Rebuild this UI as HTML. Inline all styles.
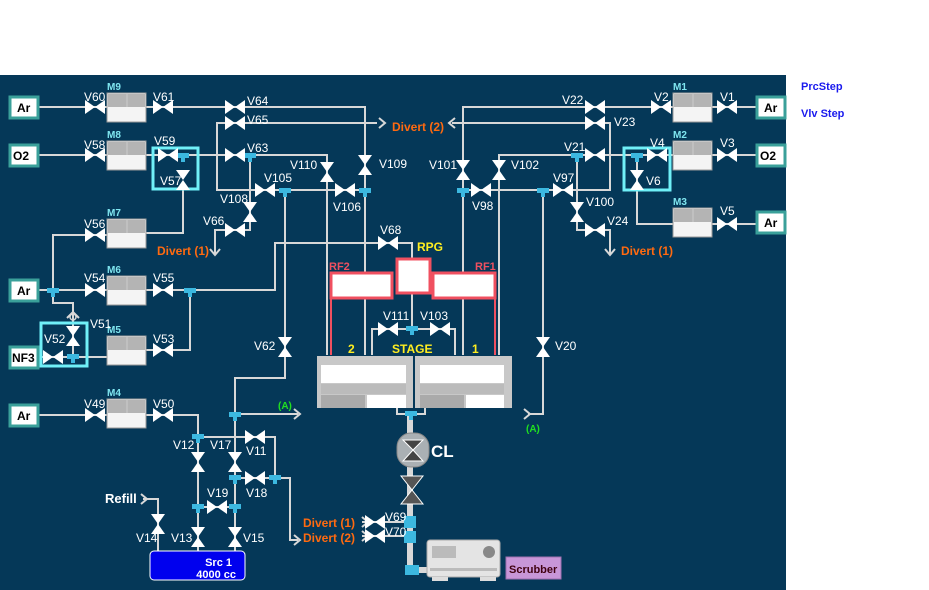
<!DOCTYPE html>
<html><head><meta charset="utf-8"><style>
html,body{margin:0;padding:0;background:#fff;width:929px;height:590px;overflow:hidden}
svg{display:block}
text{font-family:"Liberation Sans",sans-serif}
.l{fill:#fff;font-size:12px}
.m{fill:#7fe6f0;font-size:10px;font-weight:bold}
.o{fill:#ff6a10;font-size:12px;font-weight:bold}
.y{fill:#ffee20;font-size:12px;font-weight:bold}
.r{fill:#f05060;font-size:11px;font-weight:bold}
.g{fill:#20e020;font-size:10px;font-weight:bold}
.p{fill:none;stroke:#d8d8d8;stroke-width:2}
</style></head><body>
<svg width="929" height="590" viewBox="0 0 929 590" xmlns="http://www.w3.org/2000/svg">
<defs>
<g id="vh"><polygon points="-10,-7 0,0 -10,7" fill="#fff"/><polygon points="10,-7 0,0 10,7" fill="#fff"/></g>
<g id="vv"><polygon points="-7,-10 0,0 7,-10" fill="#fff"/><polygon points="-7,10 0,0 7,10" fill="#fff"/></g>
<g id="mfc"><rect x="0" y="0" width="39" height="29" fill="#f4f4f4" stroke="#999"/><rect x="1" y="1" width="37" height="13" fill="#b4b4b4"/><line x1="20" y1="1" x2="20" y2="14" stroke="#ccc"/></g>
<g id="gb"><rect x="0" y="0" width="28" height="21" fill="#fff" stroke="#3aa09a" stroke-width="3"/></g>
<g id="tee"><rect x="-6" y="-3" width="12" height="5" fill="#3cb8e0"/><rect x="-2" y="-3" width="4" height="9" fill="#3cb8e0"/></g>
<g id="ah"><polyline points="-6,-5 0,0 -6,5" fill="none" stroke="#d8d8d8" stroke-width="2"/></g>
</defs>
<rect x="0" y="75" width="786" height="515" fill="#053858"/>
<text x="801" y="90" style="fill:#1a1aee;font-size:11px;font-weight:bold">PrcStep</text>
<text x="801" y="117" style="fill:#1a1aee;font-size:11px;font-weight:bold">Vlv Step</text>

<g class="p">
<polyline points="38,107 107,107"/><polyline points="146,107 365,107 365,270"/>
<polyline points="377,123 217,123 217,190 365,190"/>
<polyline points="38,155 107,155"/><polyline points="146,155 327,155 327,270"/>
<polyline points="250,155 250,230 215,230 215,254"/>
<polyline points="285,190 285,378 235,378 235,440"/>
<polyline points="235,414 298,414"/>
<polyline points="53,290 53,235 107,235"/><polyline points="146,233 183,233 183,185"/>
<polyline points="38,290 107,290"/><polyline points="146,290 275,290 275,243 412,243 412,260"/>
<polyline points="190,290 190,350 146,350"/>
<polyline points="38,357 107,357"/>
<polyline points="73,357 73,303 53,303 53,290"/>
<polyline points="38,415 107,415"/><polyline points="146,415 198,415 198,555"/>
<polyline points="198,437 275,437 275,478 235,478"/>
<polyline points="235,440 235,555"/>
<polyline points="198,507 235,507"/>
<polyline points="275,478 290,478 290,540 298,540"/>
<polyline points="143,499 158,499 158,555"/>
<polyline points="362,522 410,522"/><polyline points="362,536 410,536"/>
<polyline points="757,107 712,107"/><polyline points="673,107 463,107 463,355"/>
<polyline points="452,123 610,123 610,190 463,190"/>
<polyline points="757,155 712,155"/><polyline points="673,155 499,155 499,270"/>
<polyline points="637,155 637,224 673,224"/><polyline points="712,224 757,224"/>
<polyline points="577,155 577,230 610,230 610,254"/>
<polyline points="543,190 543,414 528,414"/>
<polyline points="372,355 372,329 455,329 455,355"/>
<polyline points="365,270 365,355"/><polyline points="327,270 327,355"/><polyline points="463,270 463,355"/><polyline points="499,270 499,355"/>
<polyline points="412,293 412,329"/>
<polyline points="397,408 397,414 425,414 425,408"/>
</g>
<line x1="410" y1="414" x2="410" y2="572" stroke="#d8d8d8" stroke-width="6"/>
<line x1="410" y1="570" x2="430" y2="570" stroke="#d8d8d8" stroke-width="6"/>
<rect x="405" y="565" width="14" height="10" fill="#3cb8e0"/>
<rect x="404" y="516" width="12" height="12" fill="#3cb8e0"/><rect x="404" y="531" width="12" height="12" fill="#3cb8e0"/>
<use href="#ah" x="300" y="414"/><use href="#ah" x="300" y="540"/><use href="#ah" x="530" y="414"/>
<use href="#ah" x="368" y="522"/><use href="#ah" x="368" y="536"/><use href="#ah" x="147" y="499"/>
<use href="#ah" x="385" y="123"/>
<polyline points="455,118 449,123 455,128" fill="none" stroke="#d8d8d8" stroke-width="2"/>
<polyline points="210,249 215,255 220,249" fill="none" stroke="#d8d8d8" stroke-width="2"/>
<polyline points="605,249 610,255 615,249" fill="none" stroke="#d8d8d8" stroke-width="2"/>
<polyline points="67,318 73,312 79,318" fill="none" stroke="#d8d8d8" stroke-width="2"/>
<circle cx="73" cy="317" r="3" fill="none" stroke="#d8d8d8" stroke-width="1.5"/>
<rect x="153" y="148" width="45" height="41" fill="none" stroke="#70f0f8" stroke-width="3"/>
<rect x="624" y="148" width="46" height="42" fill="none" stroke="#70f0f8" stroke-width="3"/>
<rect x="41" y="323" width="46" height="43" fill="none" stroke="#70f0f8" stroke-width="3"/>
<use href="#tee" x="183" y="156"/><use href="#tee" x="250" y="156"/><use href="#tee" x="285" y="191"/><use href="#tee" x="365" y="191"/>
<use href="#tee" x="190" y="291"/><use href="#tee" x="53" y="291"/><use href="#tee" x="73" y="357"/>
<use href="#tee" x="235" y="415"/><use href="#tee" x="198" y="437"/><use href="#tee" x="235" y="478"/><use href="#tee" x="275" y="478"/>
<use href="#tee" x="198" y="507"/><use href="#tee" x="235" y="507"/><use href="#tee" x="412" y="329"/><use href="#tee" x="411" y="414"/>
<use href="#tee" x="463" y="191"/><use href="#tee" x="543" y="191"/><use href="#tee" x="577" y="156"/><use href="#tee" x="637" y="156"/>
<use href="#gb" x="10" y="97"/><text x="17" y="112" style="font:bold 12px 'Liberation Sans';fill:#000">Ar</text>
<use href="#gb" x="10" y="145"/><text x="13" y="160" style="font:bold 12px 'Liberation Sans';fill:#000">O2</text>
<use href="#gb" x="10" y="280"/><text x="17" y="295" style="font:bold 12px 'Liberation Sans';fill:#000">Ar</text>
<use href="#gb" x="10" y="347"/><text x="12" y="362" style="font:bold 12px 'Liberation Sans';fill:#000">NF3</text>
<use href="#gb" x="10" y="405"/><text x="17" y="420" style="font:bold 12px 'Liberation Sans';fill:#000">Ar</text>
<use href="#gb" x="757" y="97"/><text x="764" y="112" style="font:bold 12px 'Liberation Sans';fill:#000">Ar</text>
<use href="#gb" x="757" y="145"/><text x="760" y="160" style="font:bold 12px 'Liberation Sans';fill:#000">O2</text>
<use href="#gb" x="757" y="212"/><text x="764" y="227" style="font:bold 12px 'Liberation Sans';fill:#000">Ar</text>
<use href="#mfc" x="107" y="93"/><text class="m" x="107" y="90">M9</text>
<use href="#mfc" x="107" y="141"/><text class="m" x="107" y="138">M8</text>
<use href="#mfc" x="107" y="219"/><text class="m" x="107" y="216">M7</text>
<use href="#mfc" x="107" y="276"/><text class="m" x="107" y="273">M6</text>
<use href="#mfc" x="107" y="336"/><text class="m" x="107" y="333">M5</text>
<use href="#mfc" x="107" y="399"/><text class="m" x="107" y="396">M4</text>
<use href="#mfc" x="673" y="93"/><text class="m" x="673" y="90">M1</text>
<use href="#mfc" x="673" y="141"/><text class="m" x="673" y="138">M2</text>
<use href="#mfc" x="673" y="208"/><text class="m" x="673" y="205">M3</text>
<use href="#vh" x="95" y="107"/><text class="l" x="84" y="101">V60</text>
<use href="#vh" x="163" y="107"/><text class="l" x="153" y="101">V61</text>
<use href="#vh" x="235" y="107"/><text class="l" x="247" y="105">V64</text>
<use href="#vh" x="235" y="123"/><text class="l" x="247" y="124">V65</text>
<use href="#vh" x="95" y="155"/><text class="l" x="84" y="149">V58</text>
<use href="#vh" x="168" y="155"/><text class="l" x="154" y="145">V59</text>
<use href="#vv" x="183" y="180"/><text class="l" x="160" y="185">V57</text>
<use href="#vh" x="235" y="155"/><text class="l" x="247" y="152">V63</text>
<use href="#vv" x="327" y="172"/><text class="l" x="290" y="169">V110</text>
<use href="#vv" x="365" y="165"/><text class="l" x="379" y="168">V109</text>
<use href="#vh" x="265" y="190"/><text class="l" x="264" y="182">V105</text>
<use href="#vh" x="345" y="190"/><text class="l" x="333" y="211">V106</text>
<use href="#vv" x="250" y="212"/><text class="l" x="220" y="203">V108</text>
<use href="#vh" x="235" y="230"/><text class="l" x="203" y="225">V66</text>
<use href="#vh" x="388" y="243"/><text class="l" x="380" y="234">V68</text>
<use href="#vh" x="95" y="235"/><text class="l" x="84" y="228">V56</text>
<use href="#vh" x="95" y="290"/><text class="l" x="84" y="282">V54</text>
<use href="#vh" x="163" y="290"/><text class="l" x="153" y="282">V55</text>
<use href="#vv" x="73" y="336"/><text class="l" x="90" y="328">V51</text>
<use href="#vh" x="53" y="357"/><text class="l" x="44" y="343">V52</text>
<use href="#vh" x="163" y="350"/><text class="l" x="153" y="343">V53</text>
<use href="#vv" x="285" y="347"/><text class="l" x="254" y="350">V62</text>
<use href="#vh" x="95" y="415"/><text class="l" x="84" y="408">V49</text>
<use href="#vh" x="163" y="415"/><text class="l" x="153" y="408">V50</text>
<use href="#vv" x="198" y="462"/><text class="l" x="173" y="449">V12</text>
<use href="#vv" x="235" y="462"/><text class="l" x="210" y="449">V17</text>
<use href="#vh" x="255" y="437"/><text class="l" x="246" y="455">V11</text>
<use href="#vh" x="255" y="478"/><text class="l" x="246" y="497">V18</text>
<use href="#vh" x="217" y="507"/><text class="l" x="207" y="497">V19</text>
<use href="#vv" x="158" y="524"/><text class="l" x="136" y="542">V14</text>
<use href="#vv" x="198" y="537"/><text class="l" x="171" y="542">V13</text>
<use href="#vv" x="235" y="537"/><text class="l" x="243" y="542">V15</text>
<use href="#vh" x="375" y="522"/><text class="l" x="385" y="521">V69</text>
<use href="#vh" x="375" y="536"/><text class="l" x="385" y="536">V70</text>
<use href="#vh" x="388" y="329"/><text class="l" x="383" y="320">V111</text>
<use href="#vh" x="440" y="329"/><text class="l" x="420" y="320">V103</text>
<use href="#vh" x="727" y="107"/><text class="l" x="720" y="101">V1</text>
<use href="#vh" x="661" y="107"/><text class="l" x="654" y="101">V2</text>
<use href="#vh" x="595" y="107"/><text class="l" x="562" y="104">V22</text>
<use href="#vh" x="595" y="123"/><text class="l" x="614" y="126">V23</text>
<use href="#vh" x="727" y="155"/><text class="l" x="720" y="147">V3</text>
<use href="#vh" x="657" y="155"/><text class="l" x="650" y="147">V4</text>
<use href="#vv" x="637" y="180"/><text class="l" x="646" y="185">V6</text>
<use href="#vh" x="727" y="224"/><text class="l" x="720" y="215">V5</text>
<use href="#vh" x="595" y="155"/><text class="l" x="564" y="151">V21</text>
<use href="#vv" x="463" y="170"/><text class="l" x="429" y="169">V101</text>
<use href="#vv" x="499" y="170"/><text class="l" x="511" y="169">V102</text>
<use href="#vh" x="481" y="190"/><text class="l" x="472" y="210">V98</text>
<use href="#vh" x="563" y="190"/><text class="l" x="553" y="182">V97</text>
<use href="#vv" x="577" y="212"/><text class="l" x="586" y="206">V100</text>
<use href="#vh" x="595" y="230"/><text class="l" x="607" y="225">V24</text>
<use href="#vv" x="543" y="347"/><text class="l" x="555" y="350">V20</text>
<text class="o" x="392" y="131">Divert (2)</text>
<text class="o" x="157" y="255">Divert (1)</text>
<text class="o" x="621" y="255">Divert (1)</text>
<text class="o" x="303" y="527">Divert (1)</text>
<text class="o" x="303" y="542">Divert (2)</text>
<text class="g" x="278" y="409">(A)</text>
<text class="g" x="526" y="432">(A)</text>
<text style="fill:#fff;font:bold 13px 'Liberation Sans'" x="105" y="503">Refill</text>
<polyline points="331,285 331,355" stroke="#f05060" stroke-width="2" fill="none"/>
<polyline points="495,285 495,355" stroke="#f05060" stroke-width="2" fill="none"/>
<rect x="331" y="273" width="61" height="25" fill="#fff" stroke="#f05060" stroke-width="3"/>
<rect x="433" y="273" width="62" height="25" fill="#fff" stroke="#f05060" stroke-width="3"/>
<rect x="397" y="259" width="33" height="34" fill="#fff" stroke="#f05060" stroke-width="3"/>
<text class="r" x="329" y="270">RF2</text><text class="r" x="475" y="270">RF1</text>
<text class="y" x="417" y="251">RPG</text>
<text class="y" x="392" y="353">STAGE</text><text class="y" x="348" y="353">2</text><text class="y" x="472" y="353">1</text>
<rect x="317" y="356" width="96" height="52" fill="#c8c8c8"/>
<rect x="415" y="356" width="97" height="52" fill="#c8c8c8"/>
<rect x="321" y="365" width="85" height="18" fill="#fff"/><rect x="420" y="365" width="84" height="18" fill="#fff"/>
<rect x="321" y="384" width="85" height="10" fill="#bbb"/><rect x="420" y="384" width="84" height="10" fill="#bbb"/>
<rect x="367" y="395" width="39" height="13" fill="#fff"/><rect x="466" y="395" width="38" height="13" fill="#fff"/>
<rect x="321" y="395" width="44" height="13" fill="#aaa"/><rect x="420" y="395" width="44" height="13" fill="#aaa"/>
<rect x="397" y="433" width="32" height="34" rx="14" fill="#aab0b4" stroke="#888"/>
<polygon points="403,440 423,440 413,450" fill="#444" stroke="#fff"/><polygon points="403,461 423,461 413,450" fill="#444" stroke="#fff"/>
<text style="fill:#fff;font:bold 17px 'Liberation Sans'" x="431" y="457">CL</text>
<polygon points="401,476 423,476 412,490 401,504 423,504 412,490" fill="#555" stroke="#fff"/>
<rect x="427" y="540" width="73" height="37" rx="3" fill="#e4e4e4" stroke="#aaa"/>
<rect x="432" y="546" width="24" height="12" fill="#bbb"/>
<circle cx="489" cy="552" r="6" fill="#888"/>
<rect x="430" y="568" width="67" height="3" fill="#bbb"/>
<rect x="432" y="577" width="16" height="4" fill="#ddd"/><rect x="480" y="577" width="16" height="4" fill="#ddd"/>
<rect x="506" y="557" width="55" height="22" fill="#c896d8" stroke="#a070b0"/>
<text x="509" y="573" style="fill:#400010;font:bold 11px 'Liberation Sans'">Scrubber</text>
<rect x="150" y="551" width="95" height="29" rx="4" fill="#0000ee" stroke="#fff"/>
<text x="232" y="566" text-anchor="end" style="fill:#fff;font:bold 11px 'Liberation Sans'">Src 1</text>
<text x="236" y="578" text-anchor="end" style="fill:#fff;font:bold 11px 'Liberation Sans'">4000 cc</text>
</svg>
</body></html>
